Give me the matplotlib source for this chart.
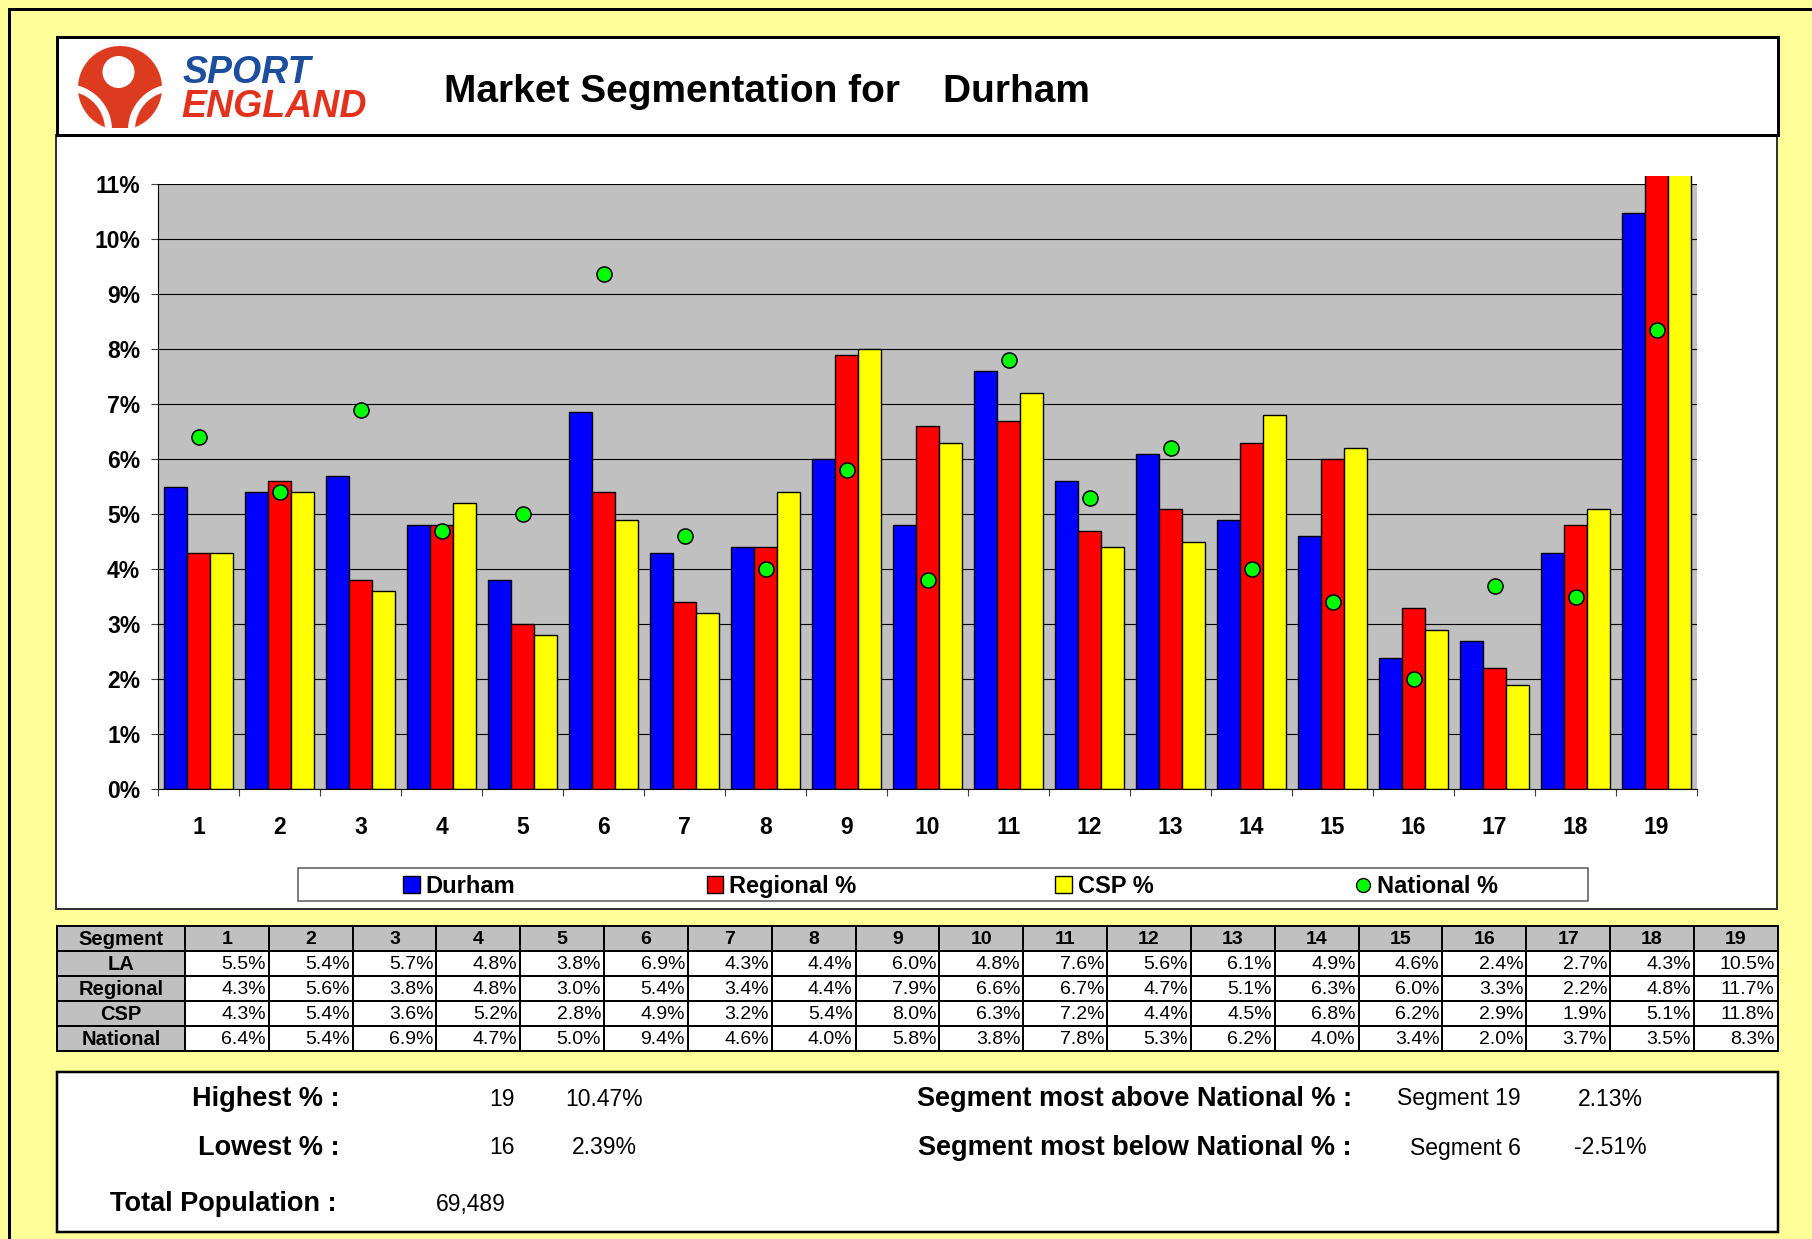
import numpy as np
import matplotlib
matplotlib.use("Agg")
import matplotlib.pyplot as plt
from matplotlib.patches import Rectangle, Circle, Wedge, Patch
from matplotlib.lines import Line2D

plt.rcParams["font.family"] = ["Liberation Sans", "DejaVu Sans"]

# --- data -------------------------------------------------------------
area_name = "Durham"
segments = list(range(1, 20))
la_pct = [5.5, 5.4, 5.7, 4.8, 3.8, 6.86, 4.3, 4.4, 6.0, 4.8,
          7.6, 5.6, 6.1, 4.9, 4.6, 2.39, 2.7, 4.3, 10.47]
regional_pct = [4.3, 5.6, 3.8, 4.8, 3.0, 5.4, 3.4, 4.4, 7.9, 6.6,
                6.7, 4.7, 5.1, 6.3, 6.0, 3.3, 2.2, 4.8, 11.7]
csp_pct = [4.3, 5.4, 3.6, 5.2, 2.8, 4.9, 3.2, 5.4, 8.0, 6.3,
           7.2, 4.4, 4.5, 6.8, 6.2, 2.9, 1.9, 5.1, 11.8]
national_pct = [6.4, 5.4, 6.9, 4.7, 5.0, 9.37, 4.6, 4.0, 5.8, 3.8,
                7.8, 5.3, 6.2, 4.0, 3.4, 2.0, 3.7, 3.5, 8.34]
series_names = [area_name, "Regional %", "CSP %", "National %"]
row_names = ["LA", "Regional", "CSP", "National"]
total_population = 69489
y_ticks = list(range(0, 12))

bar_colors = ["#0000FF", "#FF0000", "#FFFF00"]
nat_color = "#00FF00"
plot_gray = "#C0C0C0"
page_yellow = "#FFFF99"

W, H = 1812, 1239


def pt(px):
    # pixels -> points at dpi 100
    return px * 0.72


fig = plt.figure(figsize=(W / 100, H / 100), dpi=100, facecolor=page_yellow)

# background canvas in pixel coordinates (y down)
bg = fig.add_axes([0, 0, 1, 1], zorder=0)
bg.set_xlim(0, W)
bg.set_ylim(H, 0)
bg.axis("off")

# outer page border (left + top)
bg.plot([9, 9], [H + 5, 9], color="black", lw=pt(3), solid_capstyle="projecting")
bg.plot([9, W + 5], [9, 9], color="black", lw=pt(3), solid_capstyle="projecting")

# chart box and header box
bg.add_patch(Rectangle((56, 135), 1721, 774, fc="white", ec="#333333", lw=pt(2)))
bg.add_patch(Rectangle((57, 37), 1721, 98, fc="white", ec="black", lw=pt(3)))

# logo
logo_red = "#DC3B1F"
disc = Circle((120, 88), 42, fc=logo_red, ec="none")
bg.add_patch(disc)
disc.set_clip_path(Rectangle((70, 40), 110, 88, transform=bg.transData))
bg.add_patch(Circle((118.5, 72), 16, fc="white", ec="none"))
for arm in (Wedge((66, 130), 46, 270, 360, width=7),
            Wedge((174, 130), 46, 180, 270, width=7)):
    arm.set_facecolor("white")
    arm.set_edgecolor("none")
    bg.add_patch(arm)
bg.text(183, 83, "SPORT", color="#1D4E9E", fontsize=27, weight="bold",
        style="italic", va="baseline", ha="left")
bg.text(181, 117, "ENGLAND", color="#E2321D", fontsize=27, weight="bold",
        style="italic", va="baseline", ha="left")

bg.text(444, 102, f"Market Segmentation for    {area_name}", fontsize=28,
        weight="bold", va="baseline", ha="left")

# --- bar chart ---------------------------------------------------------
ax = fig.add_axes([158.3 / W, 1 - 789.3 / H, (1697 - 158.3) / W, (789.3 - 184) / H],
                  zorder=1)
ax.set_facecolor(plot_gray)
x = np.array(segments, dtype=float)
bw = 0.283
clip = Rectangle((0, 0), 1, 1.014, transform=ax.transAxes)
for k, (vals, col) in enumerate(zip([la_pct, regional_pct, csp_pct], bar_colors)):
    bars = ax.bar(x + (k - 1) * bw, vals, bw, color=col, edgecolor="black",
                  lw=1.0, zorder=2, label=series_names[k])
    for p in bars:
        p.set_clip_path(clip)
ax.scatter(x, national_pct, s=118, c=nat_color, edgecolors="black",
           linewidths=1.1, zorder=3, label=series_names[3])

ax.set_xlim(0.5, 19.5)
ax.set_ylim(0, 11)
ax.set_yticks(y_ticks)
ax.set_yticklabels([f"{v}%" for v in y_ticks], fontweight="bold")
ax.set_xticks(segments)
ax.set_xticklabels([str(s) for s in segments], fontweight="bold")
ax.set_xticks(np.arange(0.5, 20, 1), minor=True)
ax.grid(axis="y", color="black", lw=0.8)
ax.set_axisbelow(True)
for s in ("top", "right"):
    ax.spines[s].set_visible(False)
ax.spines["left"].set_color("black")
ax.spines["bottom"].set_color("black")
ax.tick_params(axis="y", length=5, width=0.8, color="#404040", pad=8, labelsize=16.5)
ax.tick_params(axis="x", which="major", length=0, pad=19, labelsize=16.5)
ax.tick_params(axis="x", which="minor", length=5, width=0.8, color="#404040")

# legend
bg.add_patch(Rectangle((298, 868), 1290, 33, fc="white", ec="#555555", lw=pt(1.5)))
handles = [Patch(fc=c, ec="black", lw=1.0) for c in bar_colors]
handles.append(Line2D([], [], marker="o", ls="none", mfc=nat_color, mec="black",
                      ms=10, mew=1.0))
for i, (h, name) in enumerate(zip(handles, series_names)):
    cx = 298 + (i + 0.5) * 1290 / 4
    fig.legend(handles=[h], labels=[name], loc="center",
               bbox_to_anchor=(cx / W, 1 - 886.5 / H), frameon=False,
               prop=dict(family="Liberation Sans", weight="bold", size=17),
               handlelength=0.7, handleheight=0.7, handletextpad=0.25,
               borderpad=0, borderaxespad=0)

# --- data table ----------------------------------------------------------
t_top, row_h = 925.7, 25.0
lab_x0, lab_x1, t_right = 57.0, 185.0, 1777.7
col_w = (t_right - lab_x1) / len(segments)
table_rows = [la_pct, regional_pct, csp_pct, national_pct]
line_w = pt(2)

bg.add_patch(Rectangle((lab_x0, t_top), lab_x1 - lab_x0, row_h, fc=plot_gray,
                       ec="black", lw=line_w))
bg.text((lab_x0 + lab_x1) / 2, t_top + row_h / 2 + 1, "Segment", ha="center",
        va="center", fontsize=14.5, weight="bold")
for j, s in enumerate(segments):
    cx0 = lab_x1 + j * col_w
    bg.add_patch(Rectangle((cx0, t_top), col_w, row_h, fc=plot_gray, ec="black",
                           lw=line_w))
    bg.text(cx0 + col_w / 2, t_top + row_h / 2 + 1, str(s), ha="center",
            va="center", fontsize=14, weight="bold")

for r, (name, vals) in enumerate(zip(row_names, table_rows)):
    y0 = t_top + (r + 1) * row_h
    bg.add_patch(Rectangle((lab_x0, y0), lab_x1 - lab_x0, row_h, fc=plot_gray,
                           ec="black", lw=line_w))
    bg.text((lab_x0 + lab_x1) / 2, y0 + row_h / 2 + 1, name, ha="center",
            va="center", fontsize=14.5, weight="bold")
    for j, v in enumerate(vals):
        cx0 = lab_x1 + j * col_w
        bg.add_patch(Rectangle((cx0, y0), col_w, row_h, fc="white", ec="black",
                               lw=line_w))
        bg.text(cx0 + col_w - 3, y0 + row_h / 2 + 1, f"{v:.1f}%", ha="right",
                va="center", fontsize=14)

# --- summary box ---------------------------------------------------------
la = np.array(la_pct)
diff = la - np.array(national_pct)
hi, lo = int(np.argmax(la)), int(np.argmin(la))
above, below = int(np.argmax(diff)), int(np.argmin(diff))

bg.add_patch(Rectangle((57, 1072), 1720.7, 160, fc="white", ec="black", lw=pt(2.5)))
lab_kw = dict(fontsize=19.5, weight="bold", va="center", ha="right")
val_kw = dict(fontsize=16.5, va="center")

bg.text(340, 1099, "Highest % :", **lab_kw)
bg.text(515, 1099, str(segments[hi]), ha="right", **val_kw)
bg.text(604, 1099, f"{la[hi]:.2f}%", ha="center", **val_kw)
bg.text(340, 1148, "Lowest % :", **lab_kw)
bg.text(515, 1148, str(segments[lo]), ha="right", **val_kw)
bg.text(604, 1148, f"{la[lo]:.2f}%", ha="center", **val_kw)
bg.text(337, 1204, "Total Population :", **lab_kw)
bg.text(471, 1204, f"{total_population:,}", ha="center", **val_kw)

bg.text(1352, 1099, "Segment most above National % :", **lab_kw)
bg.text(1521, 1099, f"Segment {segments[above]}", ha="right", **val_kw)
bg.text(1610, 1099, f"{diff[above]:.2f}%", ha="center", **val_kw)
bg.text(1352, 1148, "Segment most below National % :", **lab_kw)
bg.text(1521, 1148, f"Segment {segments[below]}", ha="right", **val_kw)
bg.text(1610, 1148, f"{diff[below]:.2f}%", ha="center", **val_kw)

fig.savefig("out.png", dpi=100, facecolor=page_yellow)
